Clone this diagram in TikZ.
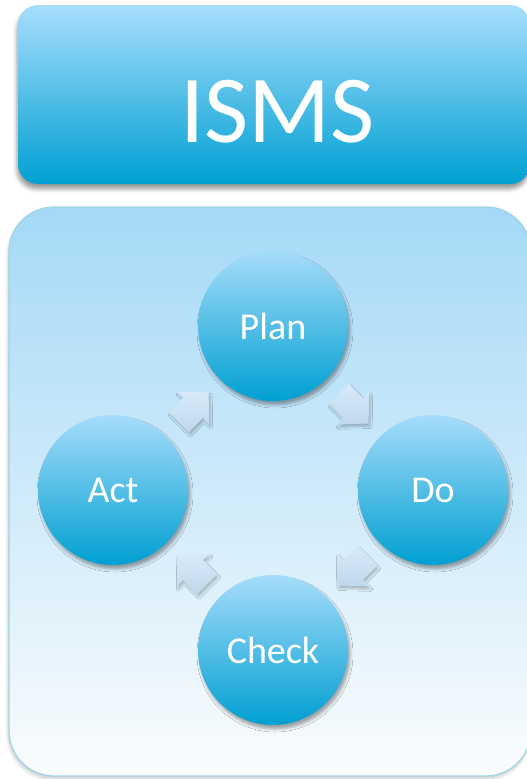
\documentclass[tikz,border=0pt]{standalone}
\usepackage{fontspec}
\setmainfont{Carlito}
\usetikzlibrary{shadows.blur,calc}
\definecolor{titletop}{HTML}{A7DDFC}
\definecolor{titlebot}{HTML}{00A1D3}
\definecolor{boxtop}{HTML}{A4D9F7}
\definecolor{boxmid}{HTML}{BAD5E8}
\definecolor{boxbot}{HTML}{FAFCFD}
\definecolor{boxline}{HTML}{9FD5E6}
\definecolor{circtop}{HTML}{A6DCFA}
\definecolor{circbot}{HTML}{00A0D2}
\definecolor{arrtop}{HTML}{D8EAF9}
\definecolor{arrbot}{HTML}{C0D8EC}
\tikzset{
  titlebox/.style={rectangle, rounded corners=20pt, draw=none, inner sep=0pt,
    top color=titletop, bottom color=titlebot,
    blur shadow={shadow xshift=-1pt, shadow yshift=-5pt, shadow blur radius=4pt, shadow opacity=40}},
  titletext/.style={text=white, inner sep=0pt, font=\fontsize{96}{100}\selectfont},
  container/.style={rectangle, rounded corners=45pt, draw=boxline, line width=1.3pt, inner sep=0pt,
    top color=boxtop, middle color=boxmid, bottom color=boxbot,
    blur shadow={shadow xshift=-1pt, shadow yshift=-3pt, shadow blur radius=3pt, shadow opacity=20}},
  stage/.style={circle, minimum size=150pt, inner sep=0pt, draw=none,
    top color=circtop, bottom color=circbot, text=white,
    font=\fontsize{38}{40}\selectfont,
    blur shadow={shadow xshift=2pt, shadow yshift=-4pt, shadow blur radius=3pt, shadow opacity=35}},
  cyclearrow/.style={draw=none, top color=arrtop, bottom color=arrbot,
    blur shadow={shadow xshift=1.5pt, shadow yshift=-3pt, shadow blur radius=2pt, shadow opacity=22}},
  cycarrow/.pic={\path[cyclearrow] (-20,-14) -- (0,-14) -- (0,-23) -- (22,0) -- (0,23) -- (0,14) -- (-20,14) -- cycle;}
}
\begin{document}
\begin{tikzpicture}[x=1pt,y=-1pt]
\useasboundingbox (0,0) rectangle (527,779);
% title box
\node[titlebox, minimum width=512pt, minimum height=179pt] (title) at (274,94.5) {};
\node[titletext] (isms) at (277.5,112) {ISMS};
% container
\node[container, minimum width=522pt, minimum height=569pt] (frame) at (270,491.5) {};
% stages
\node[stage] (plan) at (273,326) {Plan};
\node[stage] (do) at (433,490) {Do};
\node[stage] (check) at (273,650) {Check};
\node[stage] (act) at (113,490) {Act};
% cycle arrows
\pic[rotate=-45] (pd) at ($(plan)!0.5!(do)$) {cycarrow};
\pic[rotate=-135] (dc) at ($(do)!0.5!(check)$) {cycarrow};
\pic[rotate=135] (ca) at ($(check)!0.5!(act)$) {cycarrow};
\pic[rotate=45] (ap) at ($(act)!0.5!(plan)$) {cycarrow};
\end{tikzpicture}
\end{document}
